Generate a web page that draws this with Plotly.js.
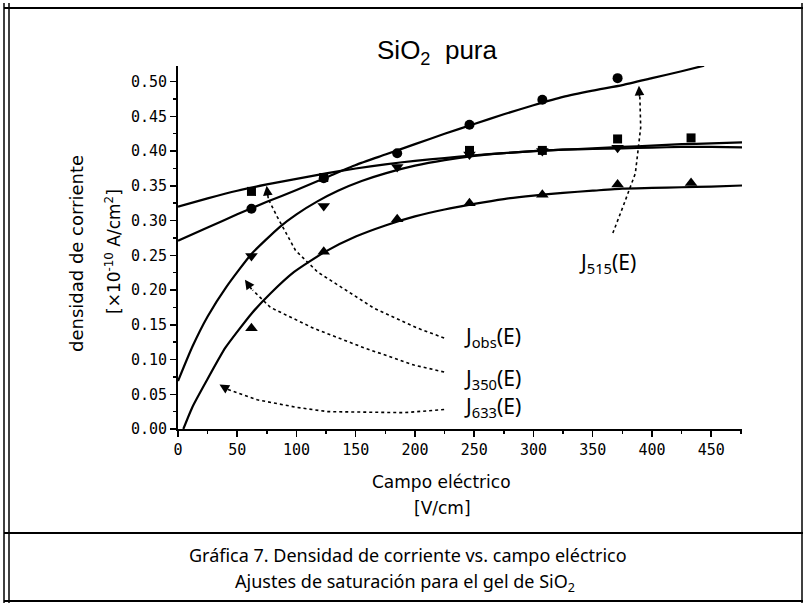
<!DOCTYPE html>
<html>
<head>
<meta charset="utf-8">
<script src="https://cdn.plot.ly/plotly-3.0.1.min.js"></script>
<style>html,body{margin:0;padding:0;background:#fff;}#chart{width:805px;height:605px;}</style>
</head>
<body>
<div id="chart"></div>
<script>
// ---- measured data (field in V/cm, current density in 1e-10 A/cm^2) ----
const fieldE = [62, 123, 185, 246, 307.5, 371, 433];
const Jobs   = [0.342, 0.362, null, 0.401, 0.401, 0.4175, 0.419];
const J515   = [0.317, 0.361, 0.397, 0.438, 0.474, 0.505, null];
const J350   = [0.249, 0.321, 0.377, 0.395, 0.400, 0.405, null];
const J633   = [0.145, 0.255, 0.302, 0.325, 0.337, 0.352, 0.354];

// ---- saturation fit curves ----
const fitObsE  = [0, 25, 50, 75, 100, 125, 150, 175, 200, 225, 250, 275, 300, 325, 350, 375, 400, 425, 450, 476];
const fitObsJ  = [0.320, 0.332, 0.343, 0.352, 0.360, 0.368, 0.375, 0.381, 0.386, 0.390, 0.394, 0.397, 0.400, 0.402, 0.404, 0.406, 0.408, 0.410, 0.411, 0.4125];
const fit515E  = [0, 25, 50, 75, 100, 125, 150, 175, 200, 225, 250, 275, 300, 325, 350, 375, 400, 425, 444];
const fit515J  = [0.271, 0.290, 0.309, 0.327, 0.344, 0.362, 0.380, 0.395, 0.410, 0.425, 0.439, 0.453, 0.466, 0.478, 0.487, 0.495, 0.505, 0.515, 0.523];
const fit350E  = [0, 12, 25, 41, 62, 86, 100, 118, 135, 155, 175, 200, 225, 250, 275, 300, 325, 350, 375, 400, 425, 450, 476];
const fit350J  = [0.069, 0.118, 0.162, 0.205, 0.252, 0.291, 0.309, 0.328, 0.343, 0.357, 0.368, 0.379, 0.387, 0.393, 0.397, 0.400, 0.402, 0.403, 0.404, 0.405, 0.406, 0.406, 0.4055];
const fit633E  = [4.5, 12, 24, 40, 62, 78, 98, 124, 150, 175, 200, 225, 250, 275, 300, 325, 350, 375, 400, 425, 450, 476];
const fit633J  = [0.000, 0.031, 0.069, 0.117, 0.166, 0.195, 0.226, 0.255, 0.277, 0.293, 0.306, 0.316, 0.324, 0.331, 0.336, 0.340, 0.343, 0.346, 0.347, 0.348, 0.349, 0.3505];

// ---- text ----
const chartTitle = 'SiO<sub>2</sub>  pura';
const xTitle1 = 'Campo eléctrico';
const xTitle2 = '[V/cm]';
const yTitle1 = 'densidad de corriente';
const yTitle2 = '[×10<sup>-10</sup> A/cm<sup>2</sup>]';
const caption1 = 'Gráfica 7. Densidad de corriente vs. campo eléctrico';
const caption2 = 'Ajustes de saturación para el gel de SiO<sub>2</sub>';
const seriesLabels = ['J<sub>515</sub>(E)', 'J<sub>obs</sub>(E)', 'J<sub>350</sub>(E)', 'J<sub>633</sub>(E)'];

// ---- layout geometry ----
const W = 805, H = 605;
const M = {l: 178, r: 63, t: 66, b: 176};
const plotW = W - M.l - M.r, plotH = H - M.t - M.b;
const px2paperX = px => (px - M.l) / plotW;
const py2paperY = py => (H - M.b - py) / plotH;

function lineTrace(x, y) {
  return {x: x, y: y, mode: 'lines', type: 'scatter', line: {color: '#000', width: 2.2, shape: 'spline', smoothing: 0.5}, hoverinfo: 'skip', showlegend: false};
}
function markerTrace(x, y, sym, size) {
  return {x: x, y: y, mode: 'markers', type: 'scatter', marker: {symbol: sym, size: size, color: '#000'}, showlegend: false};
}

const traces = [
  lineTrace(fitObsE, fitObsJ),
  lineTrace(fit515E, fit515J),
  lineTrace(fit350E, fit350J),
  lineTrace(fit633E, fit633J),
  markerTrace(fieldE, Jobs, 'square', 9),
  markerTrace(fieldE, J515, 'circle', 10),
  markerTrace(fieldE, J350, 'triangle-down', 11),
  markerTrace(fieldE, J633, 'triangle-up', 11)
];

// dotted leader paths (data coords)
const leaders = [
  'M367,0.282 L376,0.322 L386,0.368 L390.5,0.434 L389.8,0.478',
  'M224.6,0.131 L202.5,0.145 L165.3,0.174 L117.8,0.226 L99.2,0.257 L83.9,0.305 L76.5,0.330',
  'M224.6,0.082 L199.2,0.092 L156.8,0.117 L114.4,0.145 L78,0.175 L63,0.200',
  'M224.6,0.028 L190.7,0.0235 L126.3,0.025 L100.8,0.031 L66.9,0.042 L42,0.057'
];
const arrowTips = [
  {x: 389, y: 0.494, ax: 389.6, ay: 0.476},
  {x: 74.8, y: 0.350, ax: 76.3, ay: 0.330},
  {x: 56.5, y: 0.215, ax: 63, ay: 0.199},
  {x: 35, y: 0.064, ax: 43, ay: 0.056}
];

const shapes = leaders.map(p => ({type: 'path', path: p, xref: 'x', yref: 'y', line: {color: '#000', width: 1.6, dash: 'dot'}}));
// frame
const frameLine = (x0, y0, x1, y1, w) => ({type: 'line', xref: 'paper', yref: 'paper', x0: px2paperX(x0), y0: py2paperY(y0), x1: px2paperX(x1), y1: py2paperY(y1), line: {color: '#000', width: w}, layer: 'above'});
shapes.push(frameLine(4, 8, 803, 8, 2));
shapes.push(frameLine(4, 533, 803, 533, 2));
shapes.push(frameLine(4, 601, 803, 601, 2));
shapes.push(frameLine(4, 3, 4, 603, 1.5));
shapes.push(frameLine(9, 3, 9, 603, 1.5));
shapes.push(frameLine(802, 3, 802, 603, 1.5));

const annotations = [];
arrowTips.forEach(a => annotations.push({x: a.x, y: a.y, ax: a.ax, ay: a.ay, xref: 'x', yref: 'y', axref: 'x', ayref: 'y', text: '', showarrow: true, arrowhead: 2, arrowsize: 1.2, arrowwidth: 1.6, arrowcolor: '#000'}));

const labelFont = {family: 'Noto Sans, DejaVu Sans, sans-serif', size: 21, color: '#000'};
const labelPos = [[607, 263], [493, 337], [493, 379], [493, 407]];
seriesLabels.forEach((t, i) => annotations.push({text: t, xref: 'paper', yref: 'paper', x: px2paperX(labelPos[i][0]), y: py2paperY(labelPos[i][1]), xanchor: 'center', yanchor: 'middle', showarrow: false, font: labelFont}));

const axFont = {family: 'DejaVu Sans, sans-serif', size: 17, color: '#000'};
annotations.push({text: xTitle1, xref: 'paper', yref: 'paper', x: px2paperX(441), y: py2paperY(482), xanchor: 'center', yanchor: 'middle', showarrow: false, font: axFont});
annotations.push({text: xTitle2, xref: 'paper', yref: 'paper', x: px2paperX(442), y: py2paperY(508), xanchor: 'center', yanchor: 'middle', showarrow: false, font: axFont});
annotations.push({text: yTitle1, xref: 'paper', yref: 'paper', x: px2paperX(76), y: py2paperY(254), xanchor: 'center', yanchor: 'middle', textangle: -90, showarrow: false, font: {family: 'DejaVu Sans, sans-serif', size: 18, color: '#000'}});
annotations.push({text: yTitle2, xref: 'paper', yref: 'paper', x: px2paperX(113), y: py2paperY(252), xanchor: 'center', yanchor: 'middle', textangle: -90, showarrow: false, font: {family: 'DejaVu Sans, sans-serif', size: 17, color: '#000'}});

const capFont = {family: 'Noto Sans, DejaVu Sans, sans-serif', size: 18, color: '#000'};
annotations.push({text: caption1, xref: 'paper', yref: 'paper', x: px2paperX(408), y: py2paperY(555), xanchor: 'center', yanchor: 'middle', showarrow: false, font: capFont});
annotations.push({text: caption2, xref: 'paper', yref: 'paper', x: px2paperX(405), y: py2paperY(582), xanchor: 'center', yanchor: 'middle', showarrow: false, font: capFont});

const tickFont = {family: 'DejaVu Sans Mono, monospace', size: 15, color: '#000'};
const layout = {
  width: W, height: H,
  margin: M,
  paper_bgcolor: '#fff', plot_bgcolor: '#fff',
  title: {text: chartTitle, x: 437 / W, xref: 'container', xanchor: 'center', y: 1 - 50 / H, yref: 'container', yanchor: 'middle', font: {family: 'Liberation Sans, Arial, sans-serif', size: 26, color: '#000'}},
  xaxis: {range: [0, 476], showgrid: false, zeroline: false, showline: true, linecolor: '#000', linewidth: 2,
          ticks: 'outside', ticklen: 6, tickwidth: 1.5, tickcolor: '#000', dtick: 50, tick0: 0, tickfont: tickFont,
          minor: {dtick: 25, ticks: 'outside', ticklen: 3, tickcolor: '#000', tickwidth: 1.5}},
  yaxis: {range: [0, 0.5225], showgrid: false, zeroline: false, showline: true, linecolor: '#000', linewidth: 2,
          ticks: 'outside', ticklen: 6, tickwidth: 1.5, tickcolor: '#000', dtick: 0.05, tick0: 0, tickformat: '.2f', tickfont: tickFont,
          minor: {dtick: 0.025, ticks: 'outside', ticklen: 3, tickcolor: '#000', tickwidth: 1.5}},
  shapes: shapes,
  annotations: annotations,
  showlegend: false
};

Plotly.newPlot('chart', traces, layout, {displayModeBar: false, staticPlot: true});
</script>
</body>
</html>
